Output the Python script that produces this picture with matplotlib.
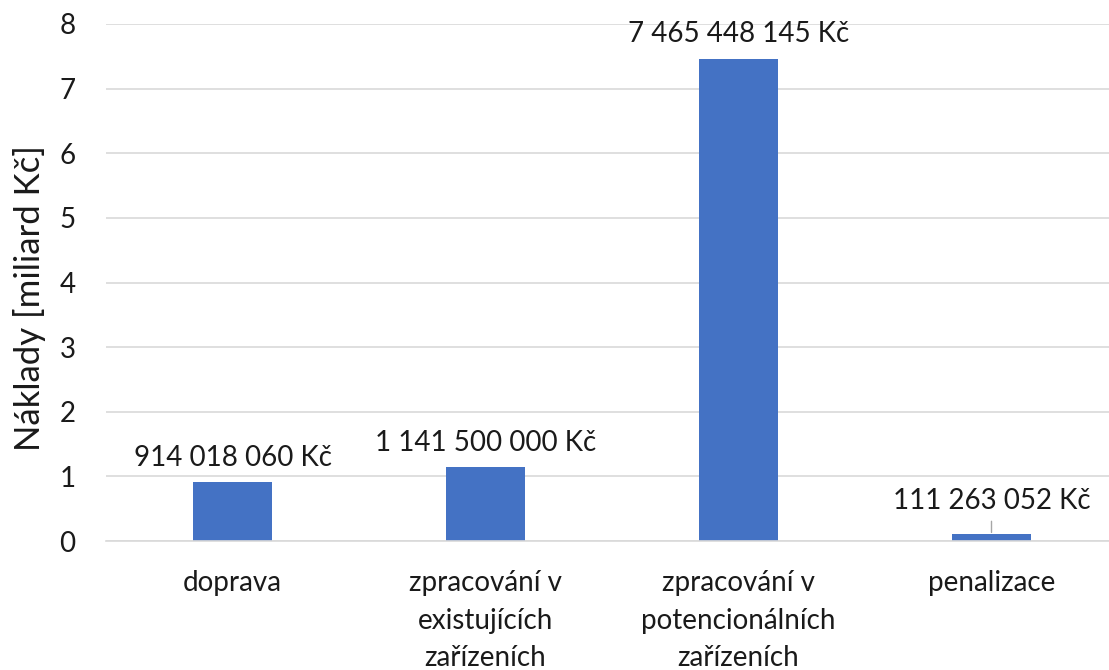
import matplotlib; matplotlib.use("Agg")
import matplotlib.pyplot as plt
import numpy as np

categories = ["doprava", "zpracování v\nexistujících\nzařízeních",
              "zpracování v\npotencionálních\nzařízeních", "penalizace"]
costs_czk = [914018060, 1141500000, 7465448145, 111263052]
label_offsets = [8, 8, 8, 14]  # penalizace label was pulled up with a leader line

plt.rcParams["font.family"] = ["Lato", "DejaVu Sans"]
TXT = "#1a1a1a"
W, H = 1109, 670
fig = plt.figure(figsize=(W/100, H/100), dpi=100)
ax = fig.add_axes([106/W, 1-541/H, (1118-106)/W, (541-24)/H])

vals = np.array(costs_czk)/1e9
x = np.arange(len(categories))
ax.bar(x, vals, width=0.31, color="#4472C4", zorder=3)
ax.set_xlim(-0.5, len(categories)-0.5)
ax.set_ylim(0, 8)
ax.set_yticks(range(0, 9))
ax.set_xticks(x)
ax.set_xticklabels(categories, linespacing=1.55)
ax.tick_params(axis="both", length=0, labelsize=20, colors=TXT)
ax.tick_params(axis="x", pad=21)
ax.tick_params(axis="y", pad=22)
ax.grid(axis="y", color="#D9D9D9", lw=1.2, zorder=0)
for s in ["left", "right", "top"]:
    ax.spines[s].set_visible(False)
ax.spines["bottom"].set_color("#D9D9D9")
ax.spines["bottom"].set_linewidth(1.2)
ax.spines["bottom"].set_zorder(4)
fig.text(30/W, 1-298/H, "Náklady [miliard Kč]", rotation=90, fontsize=25,
         color=TXT, ha="center", va="center")

for xi, v, c, off in zip(x, vals, costs_czk, label_offsets):
    txt = f"{c:,}".replace(",", " ") + " Kč"
    if off > 10:
        ax.annotate(txt, (xi, v), xytext=(0, off), textcoords="offset points",
                    ha="center", va="bottom", fontsize=20, color=TXT,
                    arrowprops=dict(arrowstyle="-", color="#A6A6A6", lw=1,
                                    shrinkA=3, shrinkB=1))
    else:
        ax.annotate(txt, (xi, v), xytext=(0, off), textcoords="offset points",
                    ha="center", va="bottom", fontsize=20, color=TXT)

fig.savefig("out.png", dpi=100)
